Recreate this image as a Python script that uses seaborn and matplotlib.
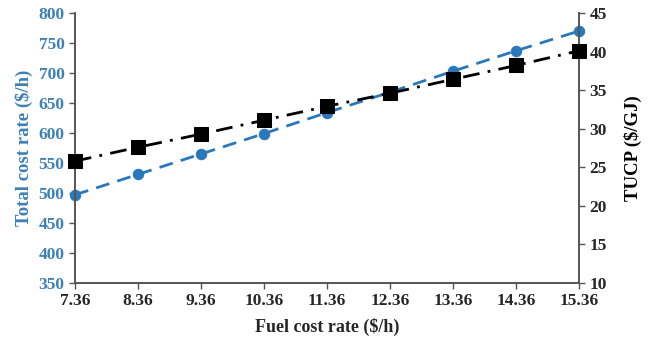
import pandas as pd
import seaborn as sns
import matplotlib.pyplot as plt

# Data
fuel_cost = [7.36, 8.36, 9.36, 10.36, 11.36, 12.36, 13.36, 14.36, 15.36]
total_cost = [497, 531, 565, 599, 634, 668, 703, 737, 770]
tucp = [25.8, 27.6, 29.3, 31.1, 32.9, 34.6, 36.4, 38.2, 40.1]

df = pd.DataFrame({"fuel": fuel_cost, "total": total_cost, "tucp": tucp})

sns.set_style("white")
plt.rcParams['font.family'] = ['Liberation Serif', 'DejaVu Serif']
plt.rcParams['font.weight'] = 'bold'

blue = "#2A78BC"
label_blue = "#3B80B8"
spine_col = "#555555"

fig = plt.figure(figsize=(6.48, 3.4), dpi=100)
ax = fig.add_axes([0.1157, 0.1676, 0.7778, 0.7942])
ax2 = ax.twinx()

sns.lineplot(data=df, x="fuel", y="total", ax=ax, color=blue, linestyle=(0, (5, 3)),
             linewidth=2, marker="o", markersize=7.5, markeredgecolor=blue, zorder=2, clip_on=False)
sns.lineplot(data=df, x="fuel", y="tucp", ax=ax2, color="black", linestyle=(0, (6, 3, 1, 3)),
             linewidth=2, marker="s", markersize=10, markeredgecolor="black", zorder=3, clip_on=False)

ax.set_xlim(7.36, 15.36)
ax.set_xticks(fuel_cost)
ax.set_xticklabels([f"{v:.2f}" for v in fuel_cost])
ax.set_ylim(350, 800)
ax.set_yticks(range(350, 801, 50))
ax2.set_ylim(10, 45)
ax2.set_yticks(range(10, 46, 5))

ax.set_xlabel("Fuel cost rate ($/h)", fontsize=13, fontweight="bold", labelpad=6)
ax.set_ylabel("Total cost rate ($/h)", fontsize=13.5, fontweight="bold", color=label_blue, labelpad=4)
ax2.set_ylabel("TUCP ($/GJ)", fontsize=13.5, fontweight="bold", color="black", labelpad=12)

ax.tick_params(axis="x", labelsize=12.5, direction="out", length=4, width=1, color=spine_col, bottom=True)
ax.tick_params(axis="y", labelsize=12.5, direction="out", length=4, width=1, color=spine_col,
               labelcolor=label_blue, left=True)
ax2.tick_params(axis="y", labelsize=12.5, direction="out", length=4, width=1, color=spine_col, right=True)

for a in (ax, ax2):
    a.spines["top"].set_visible(False)
    for s in ("left", "right", "bottom"):
        a.spines[s].set_color(spine_col)
        a.spines[s].set_linewidth(1.2)
    a.grid(False)
for lbl in ax.get_xticklabels() + ax.get_yticklabels() + ax2.get_yticklabels():
    lbl.set_fontweight("bold")

legend = ax.get_legend()
if legend:
    legend.remove()

fig.savefig("out.png", dpi=100)
